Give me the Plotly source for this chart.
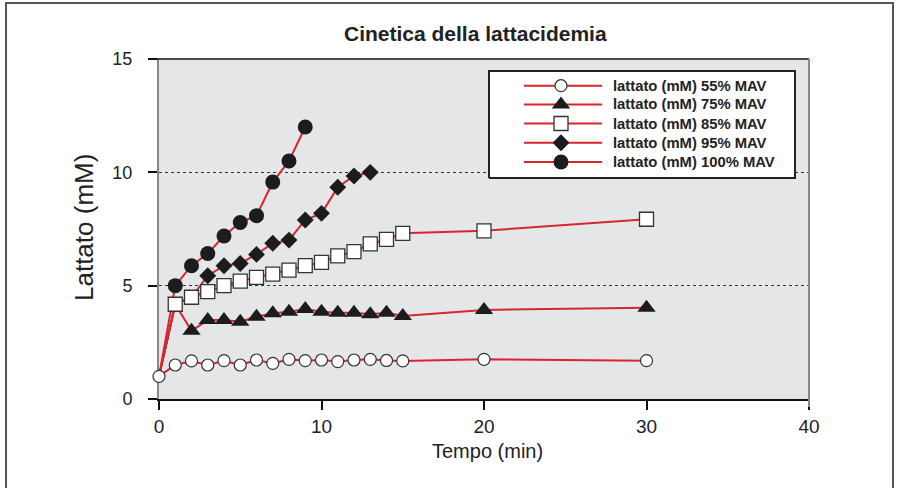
import plotly.graph_objects as go

# ---------------- data ----------------
t_55 = [0, 1, 2, 3, 4, 5, 6, 7, 8, 9, 10, 11, 12, 13, 14, 15, 20, 30]
y_55 = [1.0, 1.5, 1.68, 1.5, 1.69, 1.5, 1.72, 1.57, 1.75, 1.69, 1.72, 1.65, 1.72, 1.75, 1.7, 1.68, 1.75, 1.69]

t_75 = [0, 1, 2, 3, 4, 5, 6, 7, 8, 9, 10, 11, 12, 13, 14, 15, 20, 30]
y_75 = [1.0, 4.18, 3.01, 3.48, 3.48, 3.41, 3.63, 3.78, 3.85, 3.97, 3.85, 3.81, 3.81, 3.74, 3.81, 3.66, 3.93, 4.03]

t_85 = [0, 1, 2, 3, 4, 5, 6, 7, 8, 9, 10, 11, 12, 13, 14, 15, 20, 30]
y_85 = [1.0, 4.18, 4.49, 4.74, 5.0, 5.2, 5.37, 5.51, 5.69, 5.88, 6.03, 6.31, 6.5, 6.84, 7.04, 7.31, 7.42, 7.93]

t_95 = [0, 1, 2, 3, 4, 5, 6, 7, 8, 9, 10, 11, 12, 13]
y_95 = [1.0, 4.18, 4.49, 5.44, 5.88, 5.98, 6.38, 6.87, 7.01, 7.9, 8.19, 9.34, 9.84, 10.0]

t_100 = [0, 1, 2, 3, 4, 5, 6, 7, 8, 9]
y_100 = [1.0, 5.0, 5.88, 6.42, 7.19, 7.79, 8.09, 9.57, 10.5, 12.0]

series_names = ["lattato (mM) 55% MAV", "lattato (mM) 75% MAV", "lattato (mM) 85% MAV",
                "lattato (mM) 95% MAV", "lattato (mM) 100% MAV"]

x_ticks = [0, 10, 20, 30, 40]
y_ticks = [0, 5, 10, 15]

# ---------------- styles ----------------
RED = "#d7262d"
DARK = "#1c1c1c"
FONT = "Liberation Sans, Arial, sans-serif"
styles = [
    dict(symbol="circle", size=12, color="white", opacity=1, line=dict(color="#333", width=1.2)),
    dict(symbol="triangle-up", size=16, color=DARK, opacity=1, line=dict(color=DARK, width=0)),
    dict(symbol="square", size=14, color="white", opacity=1, line=dict(color="#333", width=1.3)),
    dict(symbol="diamond", size=13, color=DARK, opacity=1, line=dict(color=DARK, width=0)),
    dict(symbol="circle", size=15, color=DARK, opacity=1, line=dict(color=DARK, width=0)),
]
# times whose markers are covered by other series in the original chart
covered = [(), (0, 1), (0,), (0, 1, 2), (0,)]
data = [(t_55, y_55), (t_75, y_75), (t_85, y_85), (t_95, y_95), (t_100, y_100)]
draw_order = [4, 3, 1, 2, 0]

fig = go.Figure()
for i in draw_order:
    tx, ty = data[i]
    st = dict(styles[i])
    st["size"] = [0 if t in covered[i] else styles[i]["size"] for t in tx]
    fig.add_trace(go.Scatter(x=tx, y=ty, mode="lines+markers", name=series_names[i],
                             line=dict(color=RED, width=2), marker=st,
                             cliponaxis=False, showlegend=False))

# ---------------- custom legend (overlay axes in paper-like units) ----------------
W, H = 898, 488
L, R, T, B = 159, 89, 59, 89
PW, PH = W - L - R, H - T - B


def px(x):
    return (x - L) / PW


def py(y):
    return (H - B - y) / PH


bx0, bx1, by0, by1 = px(489), px(795), py(178), py(71)
fig.add_trace(go.Scatter(x=[bx0, bx1, bx1, bx0, bx0], y=[by0, by0, by1, by1, by0],
                         mode="lines", fill="toself", fillcolor="white",
                         line=dict(color="#222", width=2), xaxis="x2", yaxis="y2",
                         showlegend=False, hoverinfo="skip", cliponaxis=False))
rows = [85.7, 104.5, 123.5, 142.7, 162]
lx0, lx1, lxm, tx0 = px(524), px(602), px(561), px(611)
for ry, st, nm in zip(rows, styles, series_names):
    yy = py(ry)
    fig.add_trace(go.Scatter(x=[lx0, lx1], y=[yy, yy], mode="lines",
                             line=dict(color=RED, width=2), xaxis="x2", yaxis="y2",
                             showlegend=False, hoverinfo="skip"))
    fig.add_trace(go.Scatter(x=[lxm], y=[yy], mode="markers", marker=st,
                             xaxis="x2", yaxis="y2", showlegend=False, hoverinfo="skip"))
    fig.add_annotation(x=tx0, y=yy, xref="paper", yref="paper", text="<b>" + nm + "</b>",
                       showarrow=False, xanchor="left", yanchor="middle",
                       font=dict(family=FONT, size=14.8, color="#222"))

# ---------------- shapes: top line, right border, outer frame ----------------
fig.add_shape(type="line", xref="paper", yref="paper", x0=px(150), x1=1, y0=1, y1=1,
              line=dict(color="#111", width=1.5))
fig.add_shape(type="line", xref="paper", yref="paper", x0=1, x1=1, y0=py(407), y1=1,
              line=dict(color="#888", width=2))
fig.add_shape(type="rect", xref="paper", yref="paper", x0=px(6), x1=px(893),
              y0=py(500), y1=py(3), line=dict(color="#555", width=2), layer="below")

# ---------------- text ----------------
fig.add_annotation(x=px(475), y=py(33), xref="paper", yref="paper",
                   xanchor="center", yanchor="middle",
                   text="<b>Cinetica della lattacidemia</b>", showarrow=False,
                   font=dict(family=FONT, size=21, color="#222"))
fig.add_annotation(x=px(487), y=py(451), xref="paper", yref="paper",
                   xanchor="center", yanchor="middle",
                   text="Tempo (min)", showarrow=False,
                   font=dict(family=FONT, size=20, color="#222"))
fig.add_annotation(x=px(84), y=py(228), xref="paper", yref="paper",
                   xanchor="center", yanchor="middle",
                   text="Lattato (mM)", showarrow=False, textangle=-90,
                   font=dict(family=FONT, size=26, color="#222"))

fig.update_layout(
    width=W, height=H,
    margin=dict(l=L, r=R, t=T, b=B),
    paper_bgcolor="white", plot_bgcolor="#e5e6e8",
    showlegend=False,
    font=dict(family=FONT, color="#222"),
    xaxis=dict(range=[0, 40], tickvals=x_ticks, ticks="outside", ticklen=9,
               tickcolor="#111", tickwidth=1.5, showline=True, linecolor="#111",
               linewidth=1.5, showgrid=False, zeroline=False,
               tickfont=dict(size=19, color="#222"), ticklabelstandoff=0,
               layer="below traces"),
    yaxis=dict(range=[0, 15], tickvals=y_ticks, ticks="outside", ticklen=9,
               tickcolor="#111", tickwidth=1.5, showline=True, linecolor="#888",
               linewidth=2, showgrid=True, gridcolor="#333", griddash="dot",
               gridwidth=1, zeroline=False, tickfont=dict(size=18, color="#222"),
               ticklabelstandoff=12, layer="below traces"),
    xaxis2=dict(overlaying="x", range=[0, 1], visible=False, anchor="y2"),
    yaxis2=dict(overlaying="y", range=[0, 1], visible=False, anchor="x2"),
)

fig.write_html("out.html")
